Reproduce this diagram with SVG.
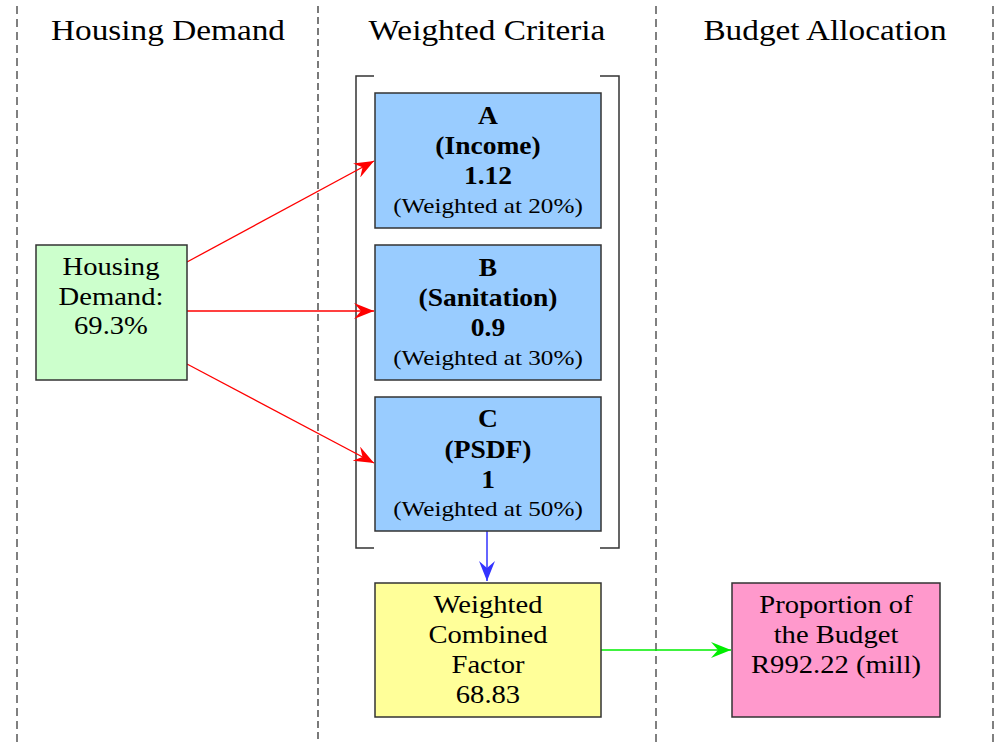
<svg xmlns="http://www.w3.org/2000/svg" width="998" height="743" viewBox="0 0 998 743">
<style>
text{font-family:"Liberation Serif","Times New Roman",serif;fill:#000;text-anchor:middle}
.title{font-size:30px}
.t{font-size:26px}
.b{font-weight:bold;font-size:25px}
.s{font-size:21px}
.box{stroke:#333;stroke-width:1.5}
.lane{stroke:#808080;stroke-width:2;stroke-dasharray:8 5;fill:none}
.lanek{stroke:#222;stroke-width:1.2;stroke-dasharray:7 4;fill:none}
.br{stroke:#333;stroke-width:1.5;fill:none}
</style>
<defs>
<marker id="ar" viewBox="0 0 20 16" refX="20" refY="8" markerWidth="20" markerHeight="16" markerUnits="userSpaceOnUse" orient="auto"><path d="M0,0 L20,8 L0,16 L7,8 Z" fill="#ff0000"/></marker>
<marker id="ab" viewBox="0 0 20 16" refX="20" refY="8" markerWidth="20" markerHeight="16" markerUnits="userSpaceOnUse" orient="auto"><path d="M0,0 L20,8 L0,16 L7,8 Z" fill="#3333ff"/></marker>
<marker id="ag" viewBox="0 0 20 16" refX="20" refY="8" markerWidth="20" markerHeight="16" markerUnits="userSpaceOnUse" orient="auto"><path d="M0,0 L20,8 L0,16 L7,8 Z" fill="#00ee00"/></marker>
</defs>
<rect width="998" height="743" fill="#fff"/>
<g id="lanes">
<line class="lane" x1="17" y1="6" x2="17" y2="743"/>
<line class="lanek" x1="318" y1="6" x2="318" y2="743"/>
<line class="lane" x1="656" y1="6" x2="656" y2="743"/>
<line class="lane" x1="993" y1="6" x2="993" y2="743"/>
<text class="title" transform="translate(168,40) scale(1.11,1)">Housing Demand</text>
<text class="title" transform="translate(487,40) scale(1.11,1)">Weighted Criteria</text>
<text class="title" transform="translate(825,40) scale(1.11,1)">Budget Allocation</text>
</g>
<g id="bracket">
<path class="br" d="M374,76 H356 V548 H374"/>
<path class="br" d="M600,76 H619 V548 H600"/>
</g>
<g id="connectors">
<line x1="187" y1="262" x2="374" y2="161" stroke="#ff0000" stroke-width="1.3" marker-end="url(#ar)"/>
<line x1="187" y1="311" x2="374" y2="311" stroke="#ff0000" stroke-width="1.3" marker-end="url(#ar)"/>
<line x1="187" y1="364" x2="374" y2="463" stroke="#ff0000" stroke-width="1.3" marker-end="url(#ar)"/>
<line x1="487" y1="531" x2="487" y2="581" stroke="#3333ff" stroke-width="1.5" marker-end="url(#ab)"/>
<line x1="601" y1="650" x2="731" y2="650" stroke="#00ee00" stroke-width="1.5" marker-end="url(#ag)"/>
</g>
<g id="housing">
<rect class="box" x="36" y="245" width="151" height="135" fill="#ccffcc"/>
<text class="t" transform="translate(111,275) scale(1.1,1)">Housing</text>
<text class="t" transform="translate(111,305) scale(1.1,1)">Demand:</text>
<text class="t" transform="translate(111,334) scale(1.1,1)">69.3%</text>
</g>
<g id="nodeA">
<rect class="box" x="375" y="93" width="226" height="135" fill="#99ccff"/>
<text class="b" transform="translate(488,124) scale(1.1,1)">A</text>
<text class="b" transform="translate(488,154) scale(1.1,1)">(Income)</text>
<text class="b" transform="translate(488,184) scale(1.1,1)">1.12</text>
<text class="s" transform="translate(488,213) scale(1.2,1)">(Weighted at 20%)</text>
</g>
<g id="nodeB">
<rect class="box" x="375" y="245" width="226" height="135" fill="#99ccff"/>
<text class="b" transform="translate(488,276) scale(1.1,1)">B</text>
<text class="b" transform="translate(488,306) scale(1.1,1)">(Sanitation)</text>
<text class="b" transform="translate(488,336) scale(1.1,1)">0.9</text>
<text class="s" transform="translate(488,365) scale(1.2,1)">(Weighted at 30%)</text>
</g>
<g id="nodeC">
<rect class="box" x="375" y="397" width="226" height="134" fill="#99ccff"/>
<text class="b" transform="translate(488,427) scale(1.1,1)">C</text>
<text class="b" transform="translate(488,458) scale(1.1,1)">(PSDF)</text>
<text class="b" transform="translate(488,488) scale(1.1,1)">1</text>
<text class="s" transform="translate(488,516) scale(1.2,1)">(Weighted at 50%)</text>
</g>
<g id="combined">
<rect class="box" x="375" y="583" width="226" height="134" fill="#ffff99"/>
<text class="t" transform="translate(488,613) scale(1.1,1)">Weighted</text>
<text class="t" transform="translate(488,643) scale(1.1,1)">Combined</text>
<text class="t" transform="translate(488,673) scale(1.1,1)">Factor</text>
<text class="t" transform="translate(488,703) scale(1.1,1)">68.83</text>
</g>
<g id="budget">
<rect class="box" x="732" y="583" width="208" height="134" fill="#ff99cc"/>
<text class="t" transform="translate(836,613) scale(1.1,1)">Proportion of</text>
<text class="t" transform="translate(836,643) scale(1.1,1)">the Budget</text>
<text class="t" transform="translate(836,673) scale(1.1,1)">R992.22 (mill)</text>
</g>
</svg>
